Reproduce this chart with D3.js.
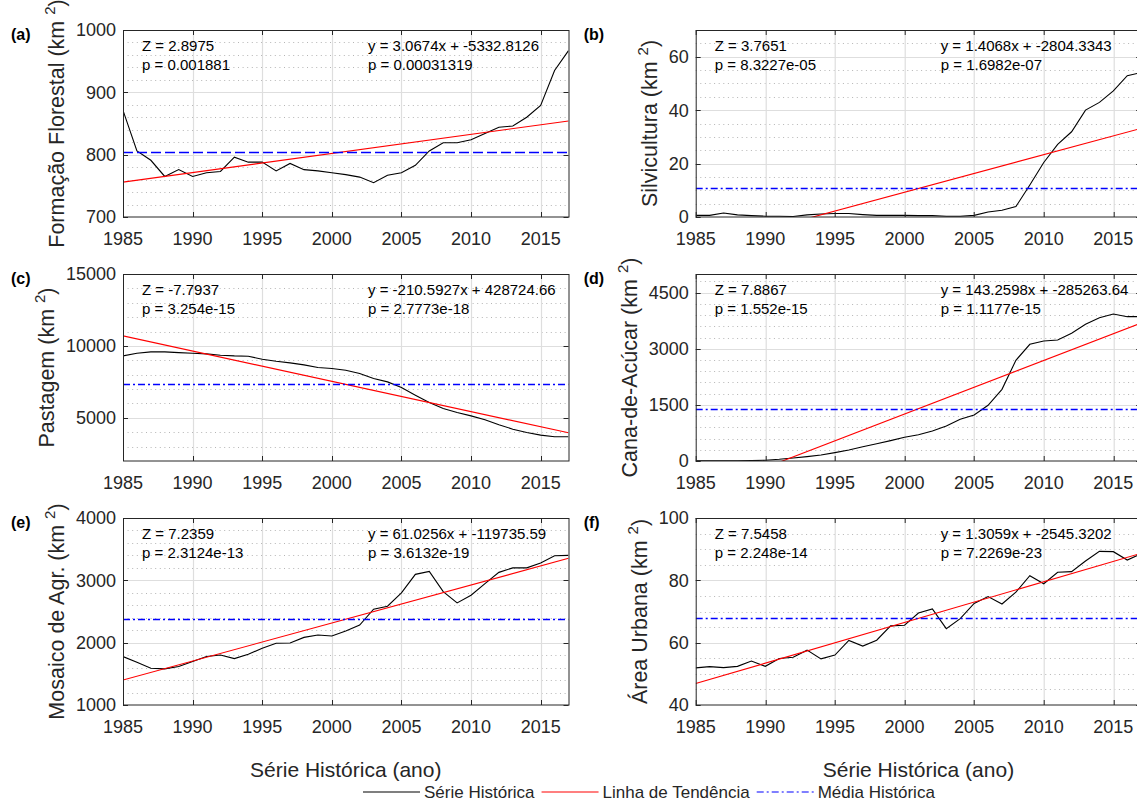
<!DOCTYPE html>
<html>
<head>
<meta charset="utf-8">
<script src="https://cdn.jsdelivr.net/npm/d3@7"></script>
<style>
    body { margin: 0; background: #fff; }
    svg { display: block; font-family: "Liberation Sans", Arial, Helvetica, sans-serif; }
</style>
</head>
<body>
<svg id="chart" width="1137" height="803"></svg>
<script>
'use strict';

/************************************************ data ******************************************************/

var anos = [1985, 1986, 1987, 1988, 1989, 1990, 1991, 1992, 1993, 1994, 1995,
    1996, 1997, 1998, 1999, 2000, 2001, 2002, 2003, 2004, 2005, 2006,
    2007, 2008, 2009, 2010, 2011, 2012, 2013, 2014, 2015, 2016, 2017];

var formacaoFlorestal = [871, 806, 791, 765, 776, 765, 771, 773, 796, 788, 788,
    774, 786, 776, 774, 771, 768, 764, 755, 767, 771, 783,
    806, 819, 819, 824, 834, 844, 846, 860, 879, 935, 967];

var silvicultura = [0.6, 0.6, 1.5, 0.8, 0.5, 0.3, 0.3, 0.2, 0.8, 1.1, 1.3,
    1.3, 0.9, 0.6, 0.6, 0.6, 0.5, 0.5, 0.3, 0.3, 0.6, 1.9,
    2.5, 3.9, 12.0, 20.4, 27.2, 31.9, 40.0, 42.9, 47.2, 52.9, 54.1];

var pastagem = [9306, 9491, 9583, 9583, 9537, 9491, 9444, 9352, 9306, 9282, 9074,
    8935, 8819, 8681, 8495, 8426, 8310, 8079, 7731, 7500, 7106, 6574,
    6065, 5648, 5370, 5139, 4861, 4514, 4213, 3981, 3796, 3681, 3681];

var canaAcucar = [5, 5, 5, 5, 10, 20, 45, 80, 116, 160, 223,
    294, 383, 463, 544, 633, 704, 802, 936, 1114, 1230, 1489,
    1916, 2692, 3120, 3209, 3237, 3415, 3655, 3833, 3930, 3859, 3859];

var mosaicoAgr = [1777, 1686, 1590, 1580, 1617, 1697, 1777, 1803, 1745, 1814, 1910,
    1990, 1995, 2085, 2122, 2106, 2186, 2282, 2537, 2585, 2798, 3096,
    3144, 2819, 2638, 2761, 2947, 3128, 3200, 3200, 3278, 3394, 3400];

var areaUrbana = [51.9, 52.3, 52.0, 52.4, 54.1, 52.4, 54.9, 55.3, 57.6, 54.8, 56.0,
    60.7, 58.9, 60.8, 65.4, 65.6, 69.5, 70.8, 64.5, 67.7, 72.6, 74.8,
    72.4, 76.2, 81.5, 78.9, 82.6, 82.8, 86.2, 89.3, 89.2, 86.5, 88.5];

var series = [formacaoFlorestal, silvicultura, pastagem, canaAcucar, mosaicoAgr, areaUrbana];

var panelLetters = ['(a)', '(b)', '(c)', '(d)', '(e)', '(f)'];
var yLabels = ['Formação Florestal (km', 'Silvicultura  (km', 'Pastagem  (km',
    'Cana-de-Acúcar  (km', 'Mosaico de Agr.  (km', 'Área Urbana  (km'];

var yDomains = [[700, 1000], [0, 70], [2000, 15000], [0, 5000], [1000, 4000], [40, 100]];
var yTicks = [[700, 800, 900, 1000], [0, 20, 40, 60], [5000, 10000, 15000],
    [0, 1500, 3000, 4500], [1000, 2000, 3000, 4000], [40, 60, 80, 100]];
var yMinorSteps = [20, 5, 1000, 300, 200, 5];
var xTicks = [1985, 1990, 1995, 2000, 2005, 2010, 2015];

// Mann-Kendall
var zStats = ['2.8975', '3.7651', '-7.7937', '7.8867', '7.2359', '7.5458'];
var zP = ['0.001881', '8.3227e-05', '3.254e-15', '1.552e-15', '2.3124e-13', '2.248e-14'];

// linha de tendencia
var trendSlopes = [3.0674, 1.4068, -210.5927, 143.2598, 61.0256, 1.3059];
var trendIntercepts = [-5332.8126, -2804.3343, 428724.66, -285263.64, -119735.59, -2545.3202];
var trendP = ['0.00031319', '1.6982e-07', '2.7773e-18', '1.1177e-15', '3.6132e-19', '7.2269e-23'];

// media historica
var mediaHistorica = [805.05, 10.67, 7328.7, 1399.2, 2376.6, 67.78];

var legendLabels = ['Série Histórica', 'Linha de Tendência', 'Média Histórica'];

/************************************************ layout ******************************************************/

var svg = d3.select('#chart'),
    colX = [123, 695.7],
    rowY = [30, 274, 518],
    W = 445.5,
    H = 187,
    axisColor = '#262626',
    gridColor = '#dedede',
    minorColor = '#b5b5b5',
    mediaColor = '#0000ff',
    mediaDash = ['10,4', '7,3,2,3', '7,3,2,3', '7,3,2,3', '7,3,2,3', '7,3,2,3'];

for (var i = 0; i < 6; i++) {
    drawPanel(i);
}
drawLegend();

function drawPanel(i) {
    var left = colX[i % 2],
        top = rowY[Math.floor(i / 2)],
        dom = yDomains[i];

    var x = d3.scaleLinear().domain([1985, 2017]).range([0, W]);
    var y = d3.scaleLinear().domain(dom).range([H, 0]);

    var g = svg.append('g').attr('transform', 'translate(' + left + ',' + top + ')');

    g.append('clipPath').attr('id', 'clip' + i)
        .append('rect').attr('width', W).attr('height', H);

    //minor grid (horizontal, dotted)
    var minor = d3.range(dom[0] + yMinorSteps[i], dom[1] - 1e-6, yMinorSteps[i])
        .filter(function (v) { return yTicks[i].indexOf(v) < 0; });
    g.selectAll('.minor').data(minor).enter().append('line')
        .attr('class', 'minor')
        .attr('x1', 0).attr('x2', W)
        .attr('y1', function (d) { return Math.round(y(d)) + 0.5; })
        .attr('y2', function (d) { return Math.round(y(d)) + 0.5; })
        .attr('stroke', minorColor).attr('stroke-width', 1)
        .attr('stroke-dasharray', '1,3.6');

    //major grid
    g.selectAll('.hgrid').data(yTicks[i].filter(function (v) { return v > dom[0] && v < dom[1]; }))
        .enter().append('line')
        .attr('x1', 0).attr('x2', W)
        .attr('y1', function (d) { return Math.round(y(d)) + 0.5; })
        .attr('y2', function (d) { return Math.round(y(d)) + 0.5; })
        .attr('stroke', gridColor).attr('stroke-width', 1.2);
    g.selectAll('.vgrid').data(xTicks.slice(1))
        .enter().append('line')
        .attr('y1', 0).attr('y2', H)
        .attr('x1', function (d) { return Math.round(x(d)) + 0.5; })
        .attr('x2', function (d) { return Math.round(x(d)) + 0.5; })
        .attr('stroke', gridColor).attr('stroke-width', 1.2);

    var plot = g.append('g').attr('clip-path', 'url(#clip' + i + ')');

    //serie historica
    var line = d3.line()
        .x(function (d, k) { return x(anos[k]); })
        .y(function (d) { return y(d); });
    plot.append('path')
        .datum(series[i])
        .attr('d', line)
        .attr('fill', 'none')
        .attr('stroke', '#000')
        .attr('stroke-width', 1.1);

    //linha de tendencia
    var tend = [1985, 2017].map(function (a) { return [a, trendSlopes[i] * a + trendIntercepts[i]]; });
    plot.append('path')
        .datum(tend)
        .attr('d', d3.line().x(function (d) { return x(d[0]); }).y(function (d) { return y(d[1]); }))
        .attr('fill', 'none')
        .attr('stroke', '#ff0000')
        .attr('stroke-width', 1.1);

    //media historica
    var ym = Math.round(y(mediaHistorica[i])) + 0.5;
    plot.append('line')
        .attr('x1', 0).attr('x2', W)
        .attr('y1', ym).attr('y2', ym)
        .style('stroke', mediaColor)
        .attr('stroke-width', 1.3)
        .attr('stroke-dasharray', mediaDash[i]);

    //box + ticks
    g.append('rect')
        .attr('x', 0.5).attr('y', 0.5).attr('width', W).attr('height', H - 0.5)
        .attr('fill', 'none').attr('stroke', axisColor).attr('stroke-width', 1);
    yTicks[i].forEach(function (v) {
        var yy = Math.round(y(v)) + 0.5;
        g.append('line').attr('x1', 0).attr('x2', 5).attr('y1', yy).attr('y2', yy).attr('stroke', axisColor);
        g.append('line').attr('x1', W).attr('x2', W - 5).attr('y1', yy).attr('y2', yy).attr('stroke', axisColor);
    });
    xTicks.forEach(function (v) {
        var xx = Math.round(x(v)) + 0.5;
        g.append('line').attr('x1', xx).attr('x2', xx).attr('y1', H).attr('y2', H - 5).attr('stroke', axisColor);
        g.append('line').attr('x1', xx).attr('x2', xx).attr('y1', 0).attr('y2', 5).attr('stroke', axisColor);
    });

    //tick labels
    var yLab = g.append('g').attr('class', 'ytl');
    yLab.selectAll('text').data(yTicks[i]).enter().append('text')
        .attr('x', -7)
        .attr('y', function (d) { return y(d); })
        .attr('dy', '0.36em')
        .attr('text-anchor', 'end')
        .style('font-size', '18px')
        .attr('fill', axisColor)
        .text(function (d) { return d; });
    g.append('g').selectAll('text').data(xTicks).enter().append('text')
        .attr('x', function (d) { return x(d); })
        .attr('y', H + 28)
        .attr('text-anchor', 'middle')
        .style('font-size', '18px')
        .attr('fill', axisColor)
        .text(function (d) { return d; });

    //y label
    var tw = yLab.node().getBBox().width;
    var lab = g.append('text')
        .attr('transform', 'translate(' + (-7 - tw - 19) + ',' + (H / 2) + ') rotate(-90)')
        .attr('text-anchor', 'middle')
        .attr('dy', '0.35em')
        .style('font-size', '21.5px')
        .attr('fill', axisColor);
    lab.append('tspan').text(yLabels[i] + ' ');
    lab.append('tspan').attr('dy', -9).style('font-size', '15px').text('2');
    lab.append('tspan').attr('dy', 9).text(')');

    //panel letter
    g.append('text')
        .attr('x', -112).attr('y', 10)
        .style('font-size', '16px').style('font-weight', 'bold')
        .attr('fill', '#000')
        .text(panelLetters[i]);

    //estatisticas
    var sx = 19, ex = 245;
    g.append('text').attr('x', sx).attr('y', 21).style('font-size', '15px').attr('fill', '#000')
        .text('Z = ' + zStats[i]);
    g.append('text').attr('x', sx).attr('y', 40).style('font-size', '15px').attr('fill', '#000')
        .text('p = ' + zP[i]);
    g.append('text').attr('x', ex).attr('y', 21).style('font-size', '15px').attr('fill', '#000')
        .text('y = ' + trendSlopes[i] + 'x + ' + trendIntercepts[i]);
    g.append('text').attr('x', ex).attr('y', 40).style('font-size', '15px').attr('fill', '#000')
        .text('p = ' + trendP[i]);

    //x label (bottom row only)
    if (i >= 4) {
        g.append('text')
            .attr('x', W / 2).attr('y', H + 72)
            .attr('text-anchor', 'middle')
            .style('font-size', '21px')
            .attr('fill', axisColor)
            .text('Série Histórica (ano)');
    }
}

function drawLegend() {
    var lg = svg.append('g').attr('transform', 'translate(363,792)'),
        colors = ['#000', '#ff0000', mediaColor],
        dashes = [null, null, '7,3,2,3'],
        cx = 0;

    legendLabels.forEach(function (name, k) {
        lg.append('line')
            .attr('x1', cx).attr('x2', cx + 57).attr('y1', 0).attr('y2', 0)
            .style('stroke', colors[k]).attr('stroke-width', 1.2)
            .attr('stroke-dasharray', dashes[k]);
        var t = lg.append('text')
            .attr('x', cx + 61).attr('y', 6)
            .style('font-size', '17px')
            .attr('fill', axisColor)
            .text(name);
        cx += 61 + t.node().getComputedTextLength() + 7;
    });
}
</script>
</body>
</html>
